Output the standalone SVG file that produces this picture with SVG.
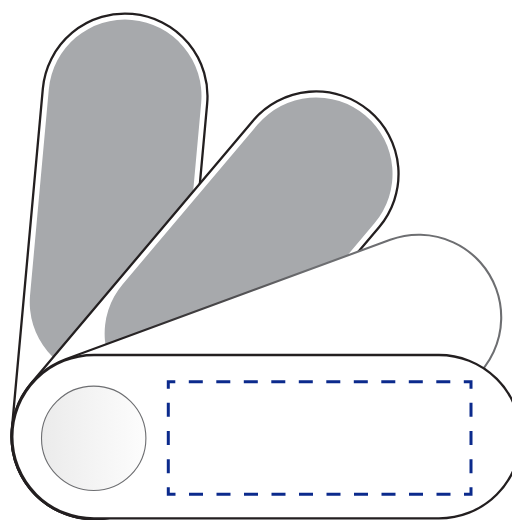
<svg xmlns="http://www.w3.org/2000/svg" width="512" height="520" viewBox="0 0 512 520">
  <defs>
    <style>
      .blade { fill: #ffffff; stroke: #231f20; stroke-width: 2.3; }
      .inner { fill: #a7a9ac; stroke: none; }
      .dash { fill: none; stroke: #0b2a8c; stroke-width: 3; }
    </style>
    <linearGradient id="g3" gradientUnits="userSpaceOnUse" x1="60" y1="0" x2="260" y2="0">
      <stop offset="0" stop-color="#231f20"/>
      <stop offset="1" stop-color="#6d6e71"/>
    </linearGradient>
    <linearGradient id="gc" x1="0" y1="0" x2="1" y2="0">
      <stop offset="0" stop-color="#ebebeb"/>
      <stop offset="1" stop-color="#fdfdfd"/>
    </linearGradient>
  </defs>
  <rect width="512" height="520" fill="#ffffff"/>

  <g id="blade1" transform="translate(94,436.7) rotate(-84.8)">
    <rect class="blade" x="-82.5" y="-82.5" width="507" height="165" rx="82.5"/>
    <rect class="inner" x="58.5" y="-76.5" width="360" height="153" rx="76.5"/>
  </g>

  <g id="blade2" transform="translate(94,436.7) rotate(-49.8)">
    <rect class="blade" x="-82.5" y="-82.5" width="509" height="165" rx="82.5"/>
    <rect class="inner" x="58.5" y="-76.5" width="362" height="153" rx="76.5"/>
  </g>

  <g id="blade3" transform="translate(94,436.7) rotate(-20.2)">
    <rect x="-82.5" y="-82.5" width="511" height="165" rx="82.5" fill="#ffffff" stroke="url(#g3)" stroke-width="2.1"/>
  </g>

  <g id="base">
    <rect class="blade" x="12.3" y="355" width="508.4" height="163.4" rx="81.7"/>
    <circle id="knob" cx="93.7" cy="438.3" r="52.2" fill="url(#gc)" stroke="#6d6e71" stroke-width="1.1"/>
    <path id="label-area" class="dash" d="M175.3,381.7 H471 V494.3 H168.3 V381.7 H175.3"
      stroke-dasharray="0 13.5 14 13.5 14 13.5 14 13.5 14 13.5 14 13.5 14 13.5 14 13.5 14 13.5 14 13.5 14 13.5 14.2 14.15 14 14.15 14 14.15 14 14.15 14 13.5 14 13.5 14 13.5 14 13.5 14 13.5 14 13.5 14 13.5 14 13.5 14 13.5 14 13.5 14 13.5 14.2 14.15 14 14.15 14 14.15 14 14.15 14 100"/>
  </g>

  <g id="connectors"/>
</svg>
